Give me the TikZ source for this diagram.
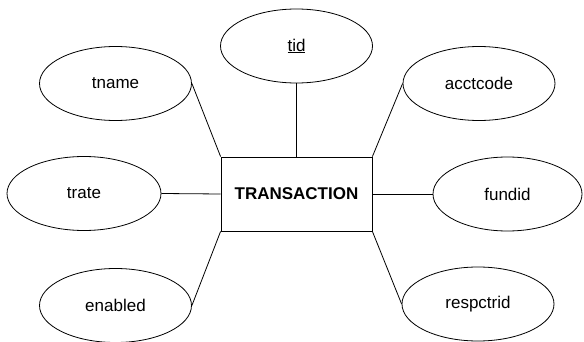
\documentclass[tikz,border=0pt]{standalone}
\usepackage{fontspec}
\setmainfont{Liberation Sans}
\usetikzlibrary{shapes.geometric}

\begin{document}
\begin{tikzpicture}[x=1pt, y=-1pt,
        attr/.style={draw, ellipse, line width=0.8pt, minimum width=152pt, minimum height=74pt, inner sep=0pt, font=\fontsize{17}{20}\selectfont},
        entity/.style={draw, rectangle, line width=0.8pt, minimum width=151pt, minimum height=74pt, inner sep=0pt, font=\fontsize{17}{20}\selectfont\bfseries},
        link/.style={line width=0.8pt}]
        \useasboundingbox (0,0) rectangle (584,342);
        \node[entity] (trans) at (296.5, 194) {TRANSACTION};
        \node[attr] (tid) at (296.5, 46) {\underline{tid}};
        \node[attr] (tname) at (115.5, 83.5) {tname};
        \node[attr] (acctcode) at (479, 83.5) {acctcode};
        \node[attr, minimum width=154pt] (trate) at (84, 193.5) {trate};
        \node[attr, minimum width=149pt] (fundid) at (507.5, 194) {fundid};
        \node[attr] (enabled) at (115.5, 305.5) {enabled};
        \node[attr] (respctrid) at (478, 304) {respctrid};
        \draw[link] (tid.south) -- (trans.north);
        \draw[link] (tname.east) -- (trans.north west);
        \draw[link] (acctcode.west) -- (trans.north east);
        \draw[link] (trate.east) -- (trans.west);
        \draw[link] (fundid.west) -- (trans.east);
        \draw[link] (enabled.east) -- (trans.south west);
        \draw[link] (respctrid.west) -- (trans.south east);
    \end{tikzpicture}
\end{document}
